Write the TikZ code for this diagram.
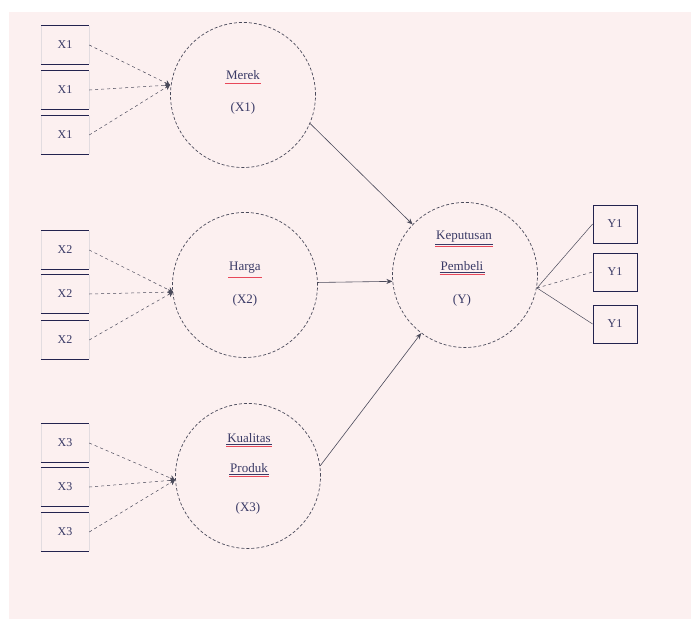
\documentclass[tikz,border=0pt]{standalone}
\usepackage{fontspec}
\setmainfont{Liberation Serif}
\usetikzlibrary{arrows.meta}
\definecolor{paper}{HTML}{FCF0F0}
\definecolor{ink}{HTML}{3A3A66}
\definecolor{edge}{HTML}{4A4A5A}
\definecolor{rule}{HTML}{23234F}
\definecolor{side}{HTML}{E2DCE0}
\definecolor{squig}{HTML}{E8485A}
\tikzset{
  construct/.style={circle,draw=edge,densely dashed,line width=0.7pt,minimum size=145pt,inner sep=0pt},
  clabel/.style={font=\fontsize{13}{14}\selectfont,text=ink,inner sep=1pt},
  ind/.style={font=\fontsize{12}{13}\selectfont,text=ink,minimum width=48pt,minimum height=38pt,inner sep=0pt},
  rbox/.style={draw=rule,line width=0.8pt,font=\fontsize{12}{13}\selectfont,text=ink,minimum width=44pt,minimum height=38pt,inner sep=0pt},
  link/.style={draw=edge,dashed,line width=0.5pt},
  path/.style={draw=edge,line width=0.6pt,-{Stealth[length=6pt,width=5pt]}},
  feed/.style={draw=edge,line width=0.5pt,-{Stealth[length=5pt,width=6pt]}},
  bar/.style={draw=rule,line width=1.1pt},
  wall/.style={draw=side,line width=0.5pt},
  wavy/.style={draw=squig,line width=0.8pt},
  uline/.style={draw=ink,line width=0.6pt}
}
\begin{document}
\begin{tikzpicture}[x=1pt,y=-1pt]
% page and background
\fill[white] (0,0) rectangle (691,619);
\fill[paper] (9,12) rectangle (691,619);
\useasboundingbox (0,0) rectangle (691,619);

% latent constructs
\node[construct] (c1) at (243,95) {};
\node[construct] (c2) at (245,285) {};
\node[construct] (c3) at (248,476) {};
\node[construct] (c4) at (465,275) {};

\node[clabel] (m1) at (243,75) {Merek};
\node[clabel] (m2) at (243,108) {(X1)};
\node[clabel] (h1) at (245,268) {Harga};
\node[clabel] (h2) at (245,300) {(X2)};
\node[clabel] (k1) at (249,438) {Kualitas};
\node[clabel] (k2) at (249,468) {Produk};
\node[clabel] (k3) at (248,508) {(X3)};
\node[clabel] (p1) at (464,237) {Keputusan};
\node[clabel] (p2) at (462,266) {Pembeli};
\node[clabel] (p3) at (462,300) {(Y)};
% underlines and spelling marks
\foreach \w in {k1,k2,p1,p2}
  \draw[uline] ([yshift=-0.5pt]\w.south west) -- ([yshift=-0.5pt]\w.south east);
\foreach \w in {m1,h1,k1,k2,p1,p2}
  \draw[wavy] ([yshift=-2.5pt]\w.south west) -- ([yshift=-2.5pt]\w.south east);

% indicators of X1
\node[ind] (a1) at (65,45) {X1};
\node[ind] (a2) at (65,90) {X1};
\node[ind] (a3) at (65,135) {X1};
% indicators of X2
\node[ind] (b1) at (65,250) {X2};
\node[ind] (b2) at (65,294) {X2};
\node[ind] (b3) at (65,340) {X2};
% indicators of X3
\node[ind] (d1) at (65,443) {X3};
\node[ind] (d2) at (65,487) {X3};
\node[ind] (d3) at (65,532) {X3};
\foreach \n in {a1,a2,a3,b1,b2,b3,d1,d2,d3}{
  \draw[wall] (\n.north west) -- (\n.south west);
  \draw[wall] (\n.north east) -- (\n.south east);
  \draw[bar] (\n.north west) -- (\n.north east);
  \draw[bar] (\n.south west) -- (\n.south east);
}

% indicators of Y
\node[rbox] (y1) at (615,224) {Y1};
\node[rbox] (y2) at (615,272) {Y1};
\node[rbox] (y3) at (615,324) {Y1};

% meeting points of the indicator links
\coordinate (j1) at (170,85);
\coordinate (j2) at (173,292);
\coordinate (j3) at (175,480);
\coordinate (jy) at (537,288);

\foreach \n in {a1,a2,a3} \draw[link,feed] (\n.east) -- (j1);
\foreach \n in {b1,b2,b3} \draw[link,feed] (\n.east) -- (j2);
\foreach \n in {d1,d2,d3} \draw[link,feed] (\n.east) -- (j3);
\draw[link,solid] (jy) -- (y1.west);
\draw[link] (jy) -- (y2.west);
\draw[link,solid] (jy) -- (y3.west);

% structural paths
\draw[path] (c1.-23) -- (c4.136);
\draw[path] (c2.2) -- (c4.185);
\draw[path] (c3.8) -- (c4.-127);
\end{tikzpicture}
\end{document}
